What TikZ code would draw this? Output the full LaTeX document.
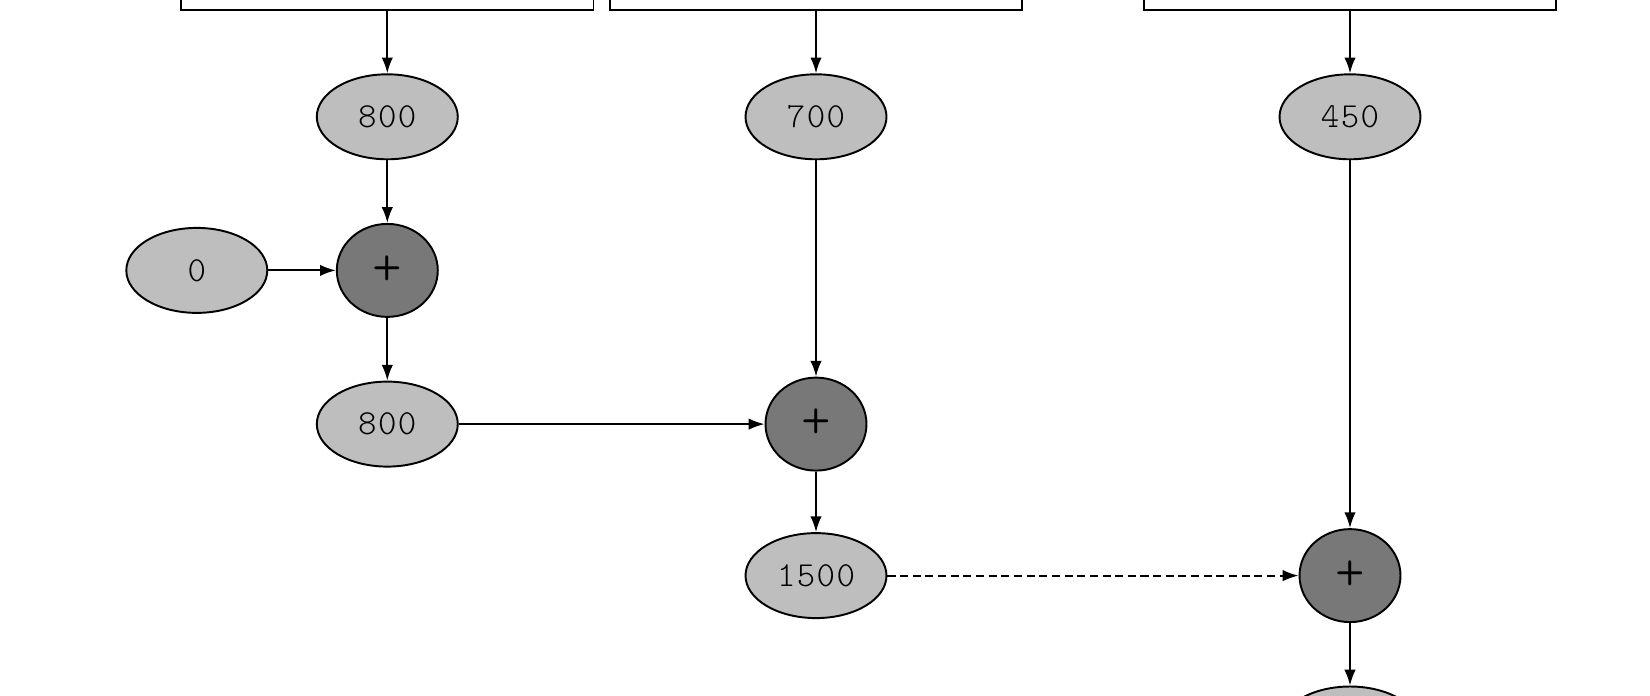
\documentclass[tikz,border=0pt]{standalone}
\usepackage{fontspec}
\newfontfamily\numfont{lmmonolt10-regular.otf}[LetterSpace=4]
\usetikzlibrary{shapes.geometric,arrows.meta}
\definecolor{valfill}{RGB}{190,190,190}
\definecolor{opfill}{RGB}{120,120,120}
\begin{document}
\begin{tikzpicture}[x=0.02cm,y=-0.02cm,
  every node/.style={font=\numfont\fontsize{20}{24}\selectfont, inner sep=0pt},
  val/.style={ellipse, draw, line width=1.1pt, fill=valfill, minimum width=2.82cm, minimum height=1.70cm},
  op/.style={ellipse, draw, line width=1.1pt, fill=opfill, minimum width=2.02cm, minimum height=1.86cm,
    font=\numfont\fontsize{32}{36}\selectfont},
  src/.style={rectangle, draw, line width=1.1pt, minimum width=8.25cm, minimum height=2cm},
  link/.style={line width=1.1pt, -{Latex[length=9pt,width=6.5pt]}},
  pending/.style={link, dash pattern=on 4.6pt off 2.6pt}]
\useasboundingbox (0,0) rectangle (1650,696);
\clip (0,0) rectangle (1650,696);

% source boxes (their upper part lies above the visible area)
\node[src] (b1) at (387.3,-40) {};
\node[src] (b2) at (816,-40) {};
\node[src] (b3) at (1350,-40) {};

% loaded values
\node[val] (v1) at (387.3,116.8) {800};
\node[val] (v2) at (816,116.8) {700};
\node[val] (v3) at (1350,116.8) {450};

% running sum
\node[val] (z)  at (196.8,270.4) {0};
\node[op]  (p1) at (387.3,270.4) {+};
\node[val] (s1) at (387.3,424.1) {800};
\node[op]  (p2) at (816,424.1) {+};
\node[val] (s2) at (816,575.6) {1500};
\node[op]  (p3) at (1350,575.6) {+};
\node[val] (s3) at (1350,729) {};

\draw[link] (b1) -- (v1);
\draw[link] (b2) -- (v2);
\draw[link] (b3) -- (v3);
\draw[link] (v1) -- (p1);
\draw[link] (z) -- (p1);
\draw[link] (p1) -- (s1);
\draw[link] (s1) -- (p2);
\draw[link] (v2) -- (p2);
\draw[link] (p2) -- (s2);
\draw[pending] (s2) -- (p3);
\draw[link] (v3) -- (p3);
\draw[link] (p3) -- (s3);
\end{tikzpicture}
\end{document}
